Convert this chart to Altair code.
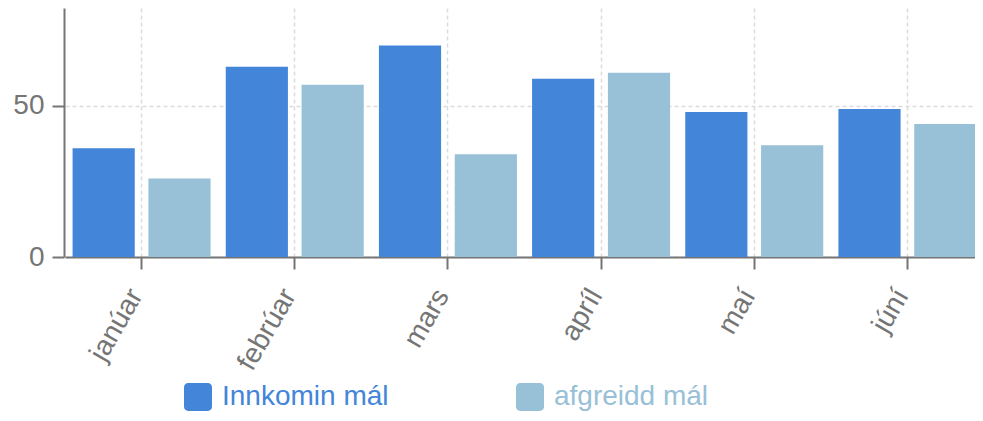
import altair as alt
import pandas as pd

months = ["janúar", "febrúar", "mars", "apríl", "maí", "júní"]
series = ["Innkomin mál", "afgreidd mál"]
innkomin = [36, 63, 70, 59, 48, 49]
afgreidd = [26, 57, 34, 61, 37, 44]
y_ticks = [0, 50]
colors = ["#4285d9", "#98c0d6"]

rows = []
for m, a, b in zip(months, innkomin, afgreidd):
    rows.append({"month": m, "series": series[0], "value": a})
    rows.append({"month": m, "series": series[1], "value": b})
df = pd.DataFrame(rows)

FONT = "Liberation Sans"
GRAY = "#757575"

label_color_expr = (
    f"datum.value == '{series[0]}' ? '{colors[0]}' : '{colors[1]}'"
)

rounded_square = (
    "M-1,-0.7 A0.3,0.3 0 0 1 -0.7,-1 L0.7,-1 A0.3,0.3 0 0 1 1,-0.7 "
    "L1,0.7 A0.3,0.3 0 0 1 0.7,1 L-0.7,1 A0.3,0.3 0 0 1 -1,0.7 Z"
)

chart = (
    alt.Chart(df)
    .mark_bar()
    .encode(
        x=alt.X(
            "month:N",
            sort=months,
            title=None,
            scale=alt.Scale(paddingInner=0, paddingOuter=0, range=[1, 920]),
            axis=alt.Axis(
                labelAngle=-60,
                labelFontSize=28,
                labelFont=FONT,
                labelColor=GRAY,
                labelPadding=22,
                labelOffset=-5,
                domainColor=GRAY,
                domainWidth=2,
                tickColor=GRAY,
                tickWidth=2,
                tickSize=12,
                grid=True,
                gridColor="#dcdcdc",
                gridDash=[4, 3],
                gridWidth=1.5,
            ),
        ),
        xOffset=alt.XOffset(
            "series:N",
            sort=series,
            scale=alt.Scale(paddingInner=0.18, paddingOuter=0.1),
        ),
        y=alt.Y(
            "value:Q",
            title=None,
            scale=alt.Scale(domain=[0, 82.45], nice=False),
            axis=alt.Axis(
                values=y_ticks,
                labelFontSize=28,
                labelFont=FONT,
                labelColor=GRAY,
                labelPadding=8,
                domainColor=GRAY,
                domainWidth=2,
                tickColor=GRAY,
                tickWidth=2,
                tickSize=12,
                grid=True,
                gridColor="#dcdcdc",
                gridDash=[4, 3],
                gridWidth=1.5,
            ),
        ),
        color=alt.Color(
            "series:N",
            sort=series,
            scale=alt.Scale(domain=series, range=colors),
            legend=alt.Legend(
                title=None,
                orient="none",
                direction="horizontal",
                legendX=120,
                legendY=375,
                padding=0,
                symbolType=rounded_square,
                symbolSize=784,
                symbolStrokeWidth=0,
                symbolOpacity=1,
                labelFontSize=28,
                labelFont=FONT,
                labelOffset=10,
                labelLimit=400,
                labelColor=alt.ExprRef(expr=label_color_expr),
                columnPadding=127,
            ),
        ),
    )
    .properties(
        width=911,
        height=249,
        autosize=alt.AutoSizeParams(type="none"),
        padding={"left": 56, "top": 0, "right": 0, "bottom": 155},
    )
    .configure_view(stroke=None)
)

chart.save("out.html", embed_options={"renderer": "svg", "actions": False})
